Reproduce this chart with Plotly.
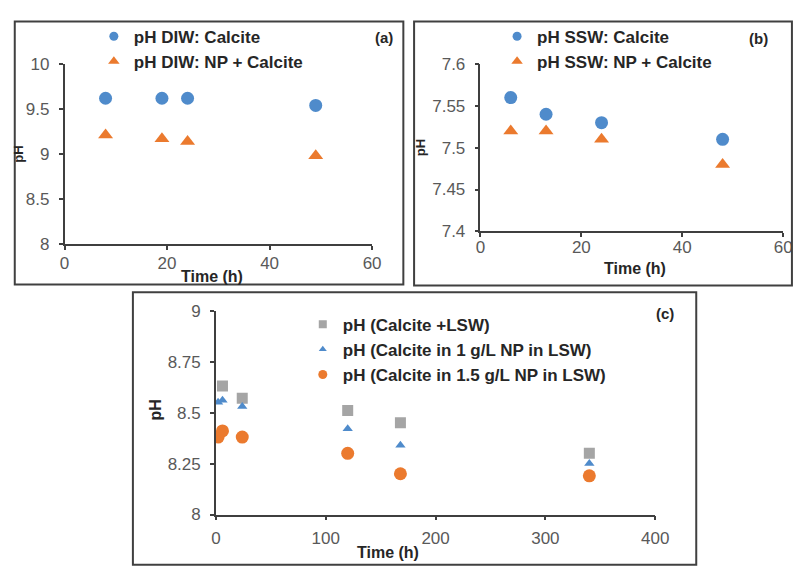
import plotly.graph_objects as go

W, H = 803, 569

# ---- Panel (a): calcite in deionised water ----
time_a = [8, 19, 24, 49]
ph_diw_calcite = [9.62, 9.62, 9.62, 9.54]
ph_diw_np_calcite = [9.21, 9.17, 9.14, 8.98]
names_a = ["pH DIW: Calcite", "pH DIW: NP + Calcite"]
xticks_a = [0, 20, 40, 60]
yticks_a = [8, 8.5, 9, 9.5, 10]
yticktext_a = ["8", "8.5", "9", "9.5", "10"]

# ---- Panel (b): calcite in synthetic seawater ----
time_b = [6, 13, 24, 48]
ph_ssw_calcite = [7.56, 7.54, 7.53, 7.51]
ph_ssw_np_calcite = [7.52, 7.52, 7.51, 7.48]
names_b = ["pH SSW: Calcite", "pH SSW: NP + Calcite"]
xticks_b = [0, 20, 40, 60]
yticks_b = [7.4, 7.45, 7.5, 7.55, 7.6]
yticktext_b = ["7.4", "7.45", "7.5", "7.55", "7.6"]

# ---- Panel (c): calcite in low salinity water ----
time_c_lsw = [6, 24, 120, 168, 340]
ph_calcite_lsw = [8.63, 8.57, 8.51, 8.45, 8.30]
time_c_np = [2, 6, 24, 120, 168, 340]
ph_np1_lsw = [8.55, 8.56, 8.53, 8.42, 8.34, 8.25]
ph_np15_lsw = [8.38, 8.41, 8.38, 8.30, 8.20, 8.19]
names_c = ["pH (Calcite +LSW)", "pH (Calcite in 1 g/L NP in LSW)",
           "pH (Calcite in 1.5 g/L NP in LSW)"]
xticks_c = [0, 100, 200, 300, 400]
yticks_c = [8, 8.25, 8.5, 8.75, 9]
yticktext_c = ["8", "8.25", "8.5", "8.75", "9"]

BLUE = "#4F8BCB"
ORANGE = "#EB7A2E"
GRAY = "#A5A5A5"
AXIS = "#3F3F3F"
TICKTXT = "#595959"
FONT = "Liberation Sans, Arial, sans-serif"


def px(x):
    return x / W


def py(y):
    return 1 - y / H


fig = go.Figure()


def add_series(x, y, name, symbol, color, size, lsize, xa, ya, legend, group):
    fig.add_trace(go.Scatter(
        x=x, y=y, mode="markers", name=name, xaxis=xa, yaxis=ya,
        marker=dict(symbol=symbol, color=color, size=size, line=dict(width=0)),
        showlegend=False, legend=legend, legendgroup=group))
    # compact legend swatch
    fig.add_trace(go.Scatter(
        x=[None], y=[None], mode="markers", name=name, xaxis=xa, yaxis=ya,
        marker=dict(symbol=symbol, color=color, size=lsize, line=dict(width=0)),
        legend=legend, legendgroup=group, showlegend=True))


add_series(time_a, ph_diw_calcite, names_a[0], "circle", BLUE, 13, 9, "x", "y", "legend", "a1")
add_series(time_a, ph_diw_np_calcite, names_a[1], "triangle-up", ORANGE, 13, 10, "x", "y", "legend", "a2")

add_series(time_b, ph_ssw_calcite, names_b[0], "circle", BLUE, 13, 9, "x2", "y2", "legend2", "b1")
add_series(time_b, ph_ssw_np_calcite, names_b[1], "triangle-up", ORANGE, 13, 10, "x2", "y2", "legend2", "b2")

add_series(time_c_lsw, ph_calcite_lsw, names_c[0], "square", GRAY, 11, 8, "x3", "y3", "legend3", "c1")
add_series(time_c_np, ph_np1_lsw, names_c[1], "triangle-up", BLUE, 9, 7, "x3", "y3", "legend3", "c2")
add_series(time_c_np, ph_np15_lsw, names_c[2], "circle", ORANGE, 13, 9, "x3", "y3", "legend3", "c3")

axis_common = dict(
    showline=True, linecolor=AXIS, linewidth=1.5, showgrid=False, zeroline=False,
    ticks="outside", ticklen=4, tickwidth=1.5, tickcolor=AXIS,
    tickfont=dict(family=FONT, size=17, color=TICKTXT),
    mirror=False, fixedrange=True,
)


def xax(domain, rng, ticks, anchor, standoff):
    return dict(axis_common, domain=domain, range=rng, tickvals=ticks,
                ticktext=[str(t) for t in ticks], anchor=anchor,
                ticklabelstandoff=standoff)


def yax(domain, rng, ticks, text, anchor):
    return dict(axis_common, domain=domain, range=rng, tickvals=ticks,
                ticktext=text, anchor=anchor, ticklabelstandoff=6)


legend_common = dict(
    bgcolor="rgba(0,0,0,0)", borderwidth=0, itemwidth=30,
    font=dict(family=FONT, size=17, color="#262626", weight="bold"),
    xanchor="left", yanchor="top", traceorder="normal", itemclick=False,
)

fig.update_layout(
    width=W, height=H, margin=dict(l=0, r=0, t=0, b=0),
    paper_bgcolor="white", plot_bgcolor="white",
    font=dict(family=FONT),
    xaxis=xax([px(61), px(376)], [0, 60], xticks_a, "y", -1),
    yaxis=yax([py(243), py(57)], [8, 10], yticks_a, yticktext_a, "x"),
    xaxis2=xax([px(487), px(797)], [0, 60], xticks_b, "y2", -4),
    yaxis2=yax([py(230), py(57)], [7.4, 7.6], yticks_b, yticktext_b, "x2"),
    xaxis3=xax([px(216), px(666)], [0, 400], xticks_c, "y3", 3),
    yaxis3=yax([py(523), py(312)], [8, 9], yticks_c, yticktext_c, "x3"),
    legend=dict(legend_common, x=px(91), y=py(10), tracegroupgap=0),
    legend2=dict(legend_common, x=px(504), y=py(10), tracegroupgap=0),
    legend3=dict(legend_common, x=px(305), y=py(308), tracegroupgap=3),
    showlegend=True,
)

# panel frames
frames = [(10, 13, 408, 285), (419, 13, 806, 286), (131, 293, 708, 575)]
for x0, y0, x1, y1 in frames:
    fig.add_shape(type="rect", xref="paper", yref="paper",
                  x0=px(x0), x1=px(x1), y0=py(y0), y1=py(y1),
                  line=dict(color="#404040", width=2), fillcolor="rgba(0,0,0,0)")

bold = dict(family=FONT, color="#262626", weight="bold")
notes = [
    ("(a)", 388, 29, 15, 0),
    ("(b)", 772, 31, 15, 0),
    ("(c)", 676, 315, 15, 0),
    ("Time (h)", 212, 277, 16, 0),
    ("Time (h)", 645, 268, 16, 0),
    ("Time (h)", 392, 562, 16, 0),
    ("pH", 14, 150, 13, -90),
    ("pH", 425, 143, 13, -90),
    ("pH", 154, 415, 16, -90),
]
for text, x, y, size, ang in notes:
    fig.add_annotation(text=text, xref="paper", yref="paper", x=px(x), y=py(y),
                       xanchor="center", yanchor="middle", showarrow=False,
                       textangle=ang, font=dict(bold, size=size))

fig.write_html("out.html")
